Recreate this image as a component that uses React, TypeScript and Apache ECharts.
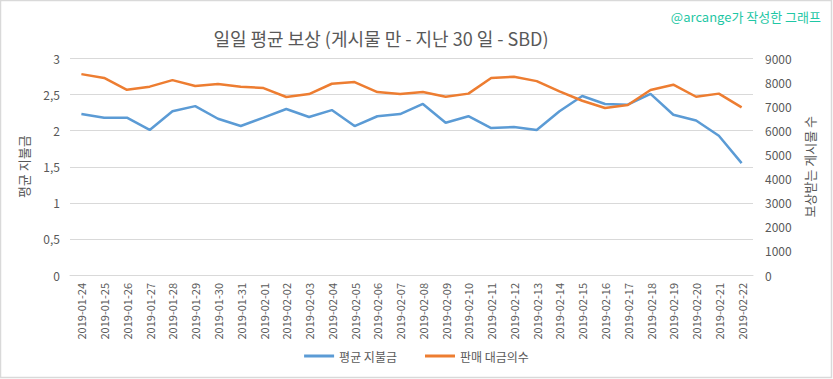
import React, { useEffect, useRef } from "react";
import * as echarts from "echarts";

const categories = [
  "2019-01-24", "2019-01-25", "2019-01-26", "2019-01-27", "2019-01-28", "2019-01-29",
  "2019-01-30", "2019-01-31", "2019-02-01", "2019-02-02", "2019-02-03", "2019-02-04",
  "2019-02-05", "2019-02-06", "2019-02-07", "2019-02-08", "2019-02-09", "2019-02-10",
  "2019-02-11", "2019-02-12", "2019-02-13", "2019-02-14", "2019-02-15", "2019-02-16",
  "2019-02-17", "2019-02-18", "2019-02-19", "2019-02-20", "2019-02-21", "2019-02-22",
];

const avgPayout = [
  2.23, 2.18, 2.18, 2.01, 2.27, 2.34, 2.165, 2.064, 2.18, 2.3, 2.19, 2.285, 2.064, 2.2, 2.23,
  2.37, 2.11, 2.2, 2.036, 2.05, 2.01, 2.27, 2.48, 2.37, 2.36, 2.51, 2.22, 2.14, 1.93, 1.55,
];

const postCount = [
  8350, 8190, 7700, 7830, 8100, 7855, 7940, 7830, 7770, 7400, 7520, 7950, 8020, 7605, 7520,
  7605, 7410, 7540, 8190, 8240, 8060, 7630, 7245, 6940, 7065, 7690, 7910, 7410, 7540, 6970,
];

const seriesNames = ["평균 지불금", "판매 대금의수"];
const titleText = "일일 평균 보상 (게시물 만 - 지난 30 일 - SBD)";
const watermark = "@arcange가 작성한 그래프";
const leftAxisName = "평균 지불금";
const rightAxisName = "보상받는 게시물 수";

const FONT = "'Noto Sans CJK KR', 'Noto Sans', sans-serif";
const TXT = "#595959";

export default function App() {
  const ref = useRef<HTMLDivElement>(null);
  useEffect(() => {
    document.body.style.margin = "0";
    const chart = echarts.init(ref.current!, null, { renderer: "svg" });
    chart.setOption({
      animation: false,
      backgroundColor: "#ffffff",
      textStyle: { fontFamily: FONT },
      graphic: [
        {
          type: "rect",
          shape: { x: 0.5, y: 0.5, width: 831, height: 377 },
          style: { fill: "none", stroke: "#d9d9d9", lineWidth: 1.5 },
          silent: true,
        },
        {
          type: "text",
          right: 12,
          top: 10,
          style: { text: watermark, fill: "#1fc7a5", font: `13px ${FONT}` },
        },
      ],
      title: {
        text: titleText,
        left: 376,
        top: 24,
        textAlign: "center",
        textStyle: { color: TXT, fontSize: 18, fontWeight: "normal", fontFamily: FONT },
      },
      legend: {
        bottom: 12,
        left: "center",
        itemWidth: 30,
        itemHeight: 3,
        itemGap: 28,
        icon: "rect",
        textStyle: { color: TXT, fontSize: 12, fontFamily: FONT },
        data: seriesNames,
      },
      grid: { left: 70, right: 80, top: 58.5, bottom: 104 },
      xAxis: {
        type: "category",
        data: categories,
        boundaryGap: true,
        axisLine: { show: true, lineStyle: { color: "#d9d9d9" } },
        axisTick: { show: false },
        axisLabel: { rotate: 90, color: TXT, fontSize: 11, interval: 0, margin: 8, fontFamily: FONT },
      },
      yAxis: [
        {
          type: "value",
          min: 0,
          max: 3,
          interval: 0.5,
          name: leftAxisName,
          nameLocation: "middle",
          nameGap: 40,
          nameRotate: 90,
          nameTextStyle: { color: TXT, fontSize: 13, fontFamily: FONT },
          axisLine: { show: false },
          axisTick: { show: false },
          splitLine: { lineStyle: { color: "#d9d9d9" } },
          axisLabel: {
            color: TXT,
            fontSize: 12,
            margin: 10,
            formatter: (v: number) => String(v).replace(".", ","),
          },
        },
        {
          type: "value",
          min: 0,
          max: 9000,
          interval: 1000,
          name: rightAxisName,
          nameLocation: "middle",
          nameGap: 46,
          nameRotate: 90,
          nameTextStyle: { color: TXT, fontSize: 13, fontFamily: FONT },
          axisLine: { show: false },
          axisTick: { show: false },
          splitLine: { show: false },
          axisLabel: { color: TXT, fontSize: 12, margin: 12, formatter: (v: number) => String(v) },
        },
      ],
      series: [
        {
          name: seriesNames[0],
          type: "line",
          yAxisIndex: 0,
          data: avgPayout,
          symbol: "none",
          itemStyle: { color: "#5b9bd5" },
          lineStyle: { color: "#5b9bd5", width: 2.5 },
        },
        {
          name: seriesNames[1],
          type: "line",
          yAxisIndex: 1,
          data: postCount,
          symbol: "none",
          itemStyle: { color: "#ed7d31" },
          lineStyle: { color: "#ed7d31", width: 2.5 },
        },
      ],
    });
    return () => chart.dispose();
  }, []);
  return <div ref={ref} style={{ width: 833, height: 379 }} />;
}
